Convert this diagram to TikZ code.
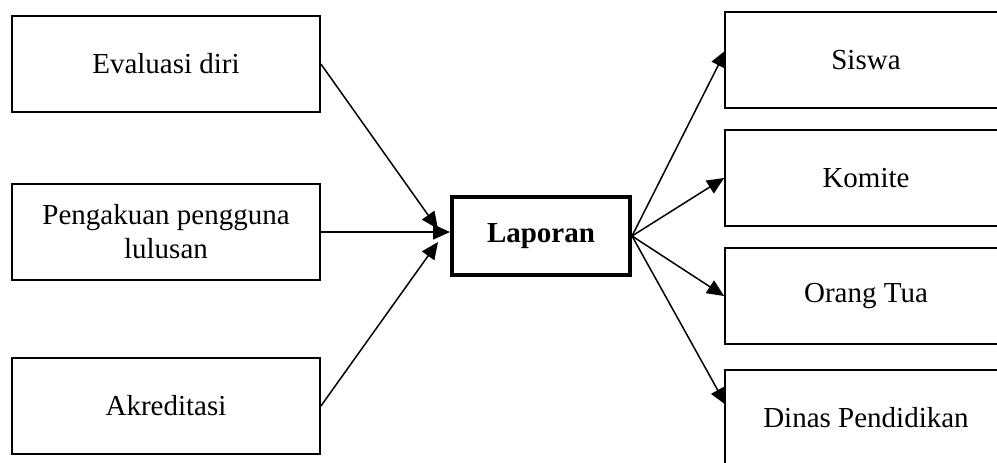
\documentclass[tikz,border=0pt]{standalone}
\usepackage{fontspec}
\setmainfont{Liberation Serif}
\usetikzlibrary{arrows.meta}
\begin{document}
\begin{tikzpicture}[x=0.5pt,y=-0.5pt]
		\tikzstyle{every node}=[draw,line width=0.9pt,font=\fontsize{14.5}{17}\selectfont,align=center,inner sep=0pt];
		\tikzstyle{lbox}=[minimum width=154pt,minimum height=48pt];
		\tikzstyle{rbox}=[minimum width=141pt,minimum height=48pt];
		\tikzstyle{arr}=[line width=0.75pt,-{Triangle[length=8.5pt,width=7.5pt]}];
		\useasboundingbox (0,0) rectangle (997,462);
		\clip (0,0) rectangle (997,462);
		\node[lbox] (eval) at (166,64) {Evaluasi diri};
		\node[lbox] (peng) at (166,232) {Pengakuan pengguna\\lulusan};
		\node[lbox] (akr) at (166,406) {Akreditasi};
		\node[line width=2pt,minimum width=89pt,minimum height=39pt,font=\fontsize{14.5}{17}\selectfont\bfseries] (lap) at (541,236) {Laporan};
		\node[rbox] (siswa) at (866,60) {Siswa};
		\node[rbox] (kom) at (866,178) {Komite};
		\node[rbox] (ortu) at (866,296) {Orang Tua};
		\node[rbox] (dinas) at (866,418) {Dinas Pendidikan};
		\coordinate (in1) at (438,229);
		\coordinate (in3) at (438,242);
		\coordinate (out1) at (726,50);
		\coordinate (out4) at (726,405);
		\draw[arr] (eval.east) -- (in1);
		\draw[arr] (peng.east) -- (peng.east -| lap.west);
		\draw[arr] (akr.east) -- (in3);
		\draw[arr] (lap.east) -- (out1);
		\draw[arr] (lap.east) -- (kom.west);
		\draw[arr] (lap.east) -- (ortu.west);
		\draw[arr] (lap.east) -- (out4);
		\end{tikzpicture}
\end{document}
